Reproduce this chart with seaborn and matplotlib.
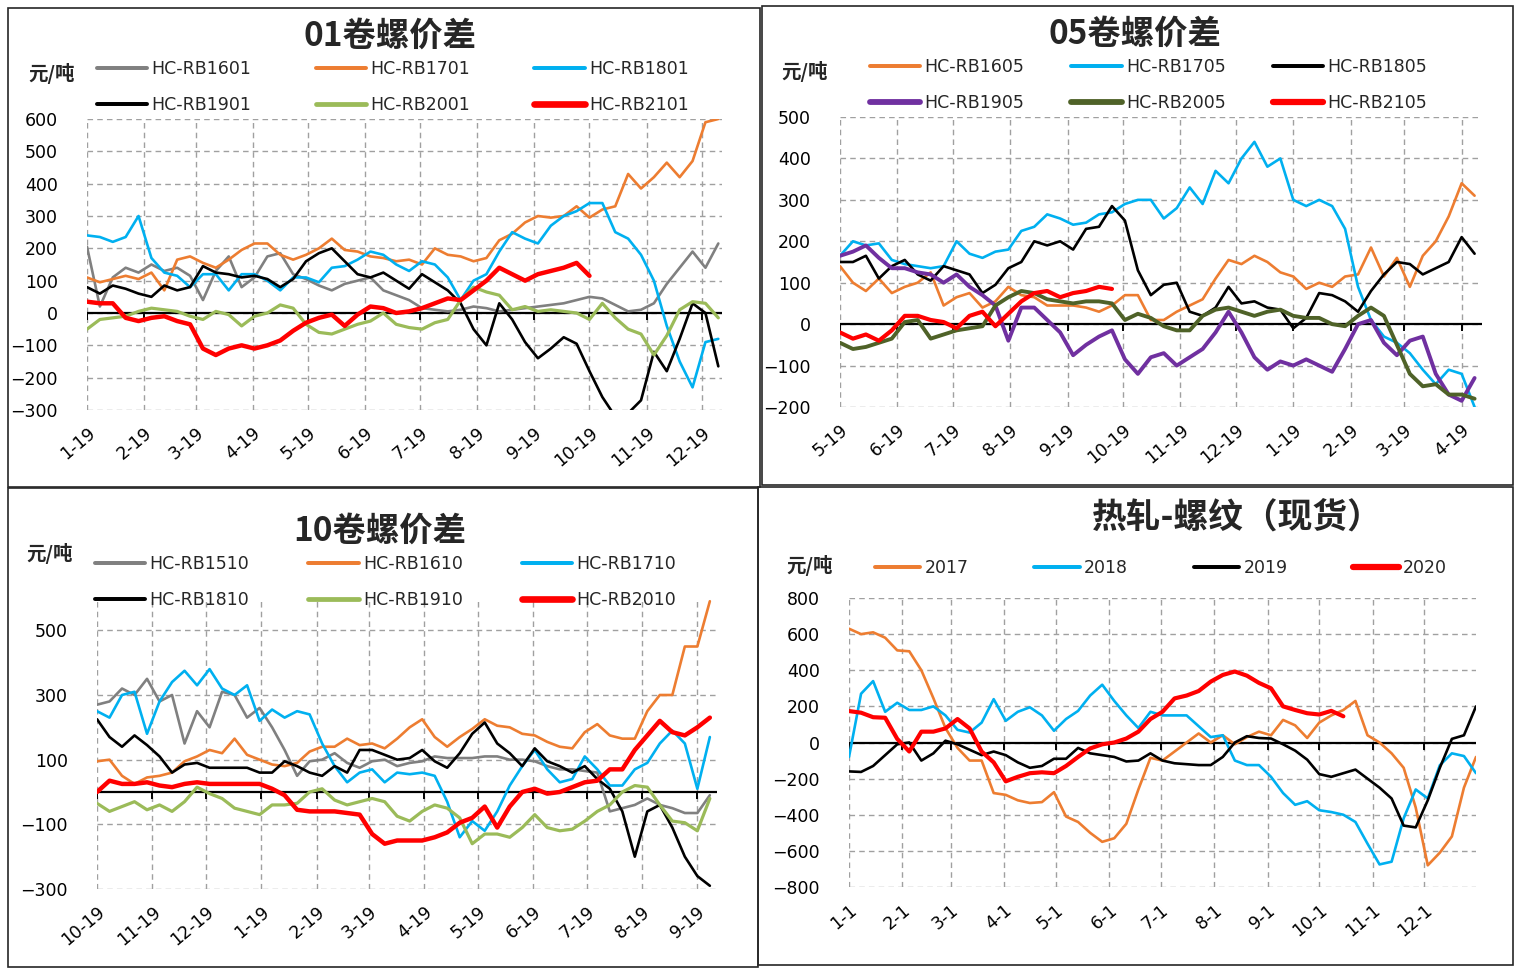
import numpy as np
import pandas as pd
import matplotlib
matplotlib.use("Agg")
import matplotlib.pyplot as plt
from matplotlib.patches import Rectangle
import seaborn as sns

# Data (weekly readings, 元/吨)

# 01 contracts, weekly from 1-19
hc_rb1601 = [205, 20, 110, 140, 125, 150, 130, 140, 115, 40, 130, 175, 80, 110, 175, 185, 120, 105, 85, 70,
             90, 100, 110, 70, 55, 40, 15, 10, 5, 10, 20, 15, 5, 10, 15, 20, 25, 30, 40, 50,
             45, 25, 5, 10, 30, 90, 140, 190, 140, 215]
hc_rb1701 = [110, 95, 105, 115, 105, 125, 70, 165, 175, 155, 140, 165, 195, 215, 215, 180, 165, 180, 200, 230,
             195, 190, 175, 170, 160, 165, 150, 200, 180, 175, 160, 170, 225, 245, 280, 300, 295, 300, 330, 295,
             320, 330, 430, 385, 420, 465, 420, 470, 590, 600]
hc_rb1801 = [240, 235, 220, 235, 300, 170, 125, 115, 80, 120, 120, 70, 120, 120, 100, 70, 110, 110, 95, 140,
             145, 165, 190, 180, 150, 130, 160, 150, 110, 40, 100, 120, 190, 250, 230, 215, 270, 300, 315, 340,
             340, 250, 230, 180, 100, -40, -150, -230, -90, -80]
hc_rb1901 = [80, 60, 85, 75, 60, 50, 85, 70, 80, 145, 125, 120, 110, 115, 105, 80, 105, 160, 185, 200,
             160, 120, 110, 125, 100, 75, 120, 95, 70, 30, -50, -100, 30, -20, -90, -140, -110, -75, -95, -180,
             -260, -320, -310, -270, -120, -180, -80, 30, 0, -165]
hc_rb2001 = [-50, -20, -15, -10, 5, 15, 10, 5, -10, -20, 5, -5, -40, -10, 0, 25, 15, -35, -60, -65,
             -50, -35, -25, 0, -35, -45, -50, -30, -20, 40, 80, 65, 55, 10, 20, 5, 10, 5, 0, -20,
             30, -15, -50, -65, -130, -70, 10, 35, 30, -15]
hc_rb2101 = [35, 30, 30, -15, -25, -15, -10, -25, -35, -110, -130, -110, -100, -110, -100, -85, -55, -30, -15, -5,
             -40, -5, 20, 15, 0, 5, 15, 30, 45, 40, 70, 100, 140, 120, 100, 120, 130, 140, 155, 115]

# 05 contracts, weekly from 5-19
hc_rb1605 = [140, 100, 80, 110, 75, 90, 100, 125, 45, 65, 75, 40, 55, 90, 70, 65, 45, 45, 45, 40,
             30, 45, 70, 70, 10, 10, 30, 45, 60, 110, 155, 145, 165, 150, 125, 115, 85, 100, 90, 115,
             120, 185, 115, 160, 90, 165, 200, 260, 340, 310]
hc_rb1705 = [165, 200, 190, 195, 155, 145, 140, 135, 140, 200, 170, 160, 175, 180, 225, 235, 265, 255, 240, 245,
             265, 270, 290, 300, 300, 255, 280, 330, 290, 370, 340, 400, 440, 380, 400, 300, 285, 300, 285, 230,
             90, 10, -30, -45, -70, -110, -145, -110, -120, -200]
hc_rb1805 = [150, 150, 165, 110, 140, 155, 120, 105, 140, 130, 120, 75, 95, 135, 150, 200, 190, 200, 180, 230,
             235, 285, 250, 130, 70, 95, 100, 30, 20, 40, 90, 50, 55, 40, 35, -10, 15, 75, 70, 55,
             30, 80, 120, 150, 145, 120, 135, 150, 210, 170]
hc_rb1905 = [165, 175, 190, 160, 135, 135, 125, 120, 100, 120, 90, 70, 45, -40, 40, 40, 10, -20, -75, -50,
             -30, -15, -85, -120, -80, -70, -100, -80, -60, -20, 30, -20, -80, -110, -90, -100, -85, -100, -115, -60,
             0, 10, -45, -75, -40, -30, -120, -170, -185, -130]
hc_rb2005 = [-45, -60, -55, -45, -35, 5, 10, -35, -25, -15, -10, -5, 45, 65, 80, 75, 60, 55, 50, 55,
             55, 50, 10, 25, 15, -5, -15, -15, 20, 35, 40, 30, 20, 30, 35, 20, 15, 15, 0, -5,
             20, 40, 20, -50, -120, -150, -145, -170, -170, -180]
hc_rb2105 = [-20, -35, -25, -40, -15, 20, 20, 10, 5, -10, 20, 30, -5, 25, 55, 75, 80, 65, 75, 80, 90, 85]

# 10 contracts, weekly from 10-19
hc_rb1510 = [270, 280, 320, 300, 350, 280, 300, 150, 250, 200, 310, 300, 230, 260, 200, 130, 50, 95, 100, 120,
             90, 75, 95, 100, 80, 90, 95, 110, 105, 105, 105, 110, 110, 100, 100, 95, 80, 70, 70, 65,
             60, -60, -50, -40, -20, -40, -50, -65, -65, -10]
hc_rb1610 = [95, 100, 50, 25, 45, 50, 60, 95, 110, 130, 120, 165, 115, 100, 85, 80, 90, 125, 140, 140,
             165, 145, 150, 135, 165, 200, 225, 170, 140, 170, 195, 225, 205, 200, 180, 175, 155, 140, 135, 185,
             210, 175, 165, 165, 250, 300, 300, 450, 450, 590]
hc_rb1710 = [250, 230, 300, 310, 180, 280, 340, 375, 330, 380, 320, 300, 330, 220, 255, 230, 250, 240, 150, 80,
             30, 60, 70, 30, 60, 55, 60, 50, -30, -140, -90, -120, -60, 20, 80, 130, 70, 30, 40, 110,
             70, 20, 20, 70, 90, 150, 190, 150, 10, 170]
hc_rb1810 = [225, 170, 140, 175, 145, 110, 60, 85, 90, 75, 75, 75, 75, 60, 60, 95, 80, 60, 50, 80,
             60, 130, 130, 115, 100, 105, 130, 95, 75, 120, 180, 215, 150, 120, 80, 135, 95, 80, 60, 80,
             40, 10, -60, -200, -60, -40, -110, -200, -260, -290]
hc_rb1910 = [-35, -60, -45, -30, -55, -40, -60, -30, 15, -5, -20, -50, -60, -70, -40, -40, -35, 0, 10, -25,
             -40, -30, -20, -30, -75, -90, -60, -40, -50, -80, -160, -130, -130, -140, -110, -70, -110, -120, -115, -90,
             -60, -40, 0, 20, 15, -40, -90, -95, -120, -20]
hc_rb2010 = [0, 35, 25, 25, 30, 20, 15, 25, 30, 25, 25, 25, 25, 25, 10, -10, -55, -60, -60, -60,
             -65, -70, -130, -160, -150, -150, -150, -140, -125, -95, -80, -45, -110, -45, 0, 10, -5, 0, 15, 30,
             35, 70, 70, 130, 175, 220, 185, 175, 200, 230]

# spot HC - RB, weekly from 1-1
spot_2017 = [630, 600, 610, 580, 510, 505, 400, 245, 80, -30, -100, -100, -280, -290, -320, -335, -330, -275, -410, -440,
             -500, -550, -530, -450, -260, -85, -100, -50, 0, 50, 0, 40, -10, 30, 60, 40, 125, 95, 25, 110,
             150, 180, 230, 40, 0, -60, -140, -360, -680, -610, -520, -250, -80]
spot_2018 = [-80, 270, 340, 170, 220, 180, 180, 200, 150, 70, 55, 110, 240, 120, 170, 195, 150, 65, 130, 175,
             260, 320, 230, 150, 80, 170, 150, 150, 150, 90, 30, 40, -100, -125, -125, -190, -280, -345, -325, -375,
             -385, -400, -440, -560, -675, -660, -420, -260, -310, -126, -60, -75, -170]
spot_2019 = [-160, -163, -130, -70, -10, 0, -100, -60, 10, -10, -40, -70, -50, -70, -110, -140, -130, -90, -90, -30,
             -60, -70, -80, -105, -100, -60, -100, -115, -120, -125, -125, -80, 0, 35, 25, 22, -10, -45, -95, -175,
             -190, -170, -150, -200, -250, -310, -460, -470, -320, -140, 20, 40, 200]
spot_2020 = [174, 165, 140, 137, 20, -50, 60, 60, 78, 130, 78, -50, -110, -215, -190, -170, -165, -170, -130, -80,
             -33, -10, 0, 22, 60, 130, 170, 244, 260, 285, 337, 374, 393, 370, 330, 300, 200, 180, 162, 155,
             175, 145]

# Styling

GRAY, ORANGE, BLUE, BLACK = "#808080", "#ED7D31", "#00B0F0", "#000000"
LGREEN, RED, PURPLE, DGREEN = "#9BBB59", "#FF0000", "#7030A0", "#4F6228"

sns.set_theme(style="white")
plt.rcParams["font.family"] = ["DejaVu Sans", "Noto Sans CJK SC"]
CJK = ["Noto Sans CJK SC", "DejaVu Sans"]

W, H = 1515, 969
fig = plt.figure(figsize=(W / 100, H / 100), dpi=100)


def fbox(x0, y0, x1, y1):
    return [x0 / W, 1 - y1 / H, (x1 - x0) / W, (y1 - y0) / H]


def draw_panel(box, start, end, series, colors, widths, ylim, yticks):
    ax = fig.add_axes(fbox(*box))
    for vals, c, lw in zip(series, colors, widths):
        dates = pd.date_range(start, periods=len(vals), freq="7D")
        sns.lineplot(x=dates, y=vals, color=c, linewidth=lw, ax=ax, zorder=3)

    ticks = pd.date_range(start, periods=12, freq=pd.DateOffset(months=1))
    ax.set_xlim(pd.Timestamp(start), pd.Timestamp(end))
    ax.set_xticks(ticks)
    ax.set_xticklabels([f"{d.month}-{d.day}" for d in ticks], rotation=40,
                       ha="right", rotation_mode="anchor")
    ax.set_ylim(*ylim)
    ax.set_yticks(yticks)
    ax.set_xlabel("")
    ax.set_ylabel("")
    ax.grid(True, color="#a0a0a0", linestyle=(0, (4, 3)), linewidth=1.0)
    for s in ax.spines.values():
        s.set_visible(False)
    ax.tick_params(axis="both", length=0, labelsize=12.5, colors="black")
    ax.tick_params(axis="y", pad=21)
    ax.tick_params(axis="x", pad=10)

    # zero axis with little tick marks
    ax.axhline(0, color="black", linewidth=1.6, zorder=2)
    ax.plot(ticks, np.zeros(len(ticks)), ls="none", marker=3, ms=5, mew=1.4,
            color="black", zorder=2)
    return ax


def add_legend(ax, labels, x, y, ncol, colsp, handlelen=2.9):
    handles = ax.get_lines()[:len(labels)]
    # matplotlib fills legends column-wise; reorder to read row-wise
    nrow = int(np.ceil(len(labels) / ncol))
    order = [r * ncol + c for c in range(ncol) for r in range(nrow) if r * ncol + c < len(labels)]
    leg = fig.legend([handles[i] for i in order], [labels[i] for i in order],
                     loc="upper left", bbox_to_anchor=(x / W, 1 - y / H), ncol=ncol,
                     frameon=False, fontsize=12.5, handlelength=handlelen, handletextpad=0.25,
                     columnspacing=colsp, labelspacing=1.05, borderpad=0, borderaxespad=0)
    for line in leg.get_lines():
        line.set_linewidth(line.get_linewidth() * 1.5)


def panel_text(title, tx, ty, ux, uy, tsize=24):
    fig.text(tx / W, 1 - ty / H, title, ha="center", va="center", fontsize=tsize,
             fontweight="bold", family=CJK)
    fig.text(ux / W, 1 - uy / H, "元/吨", ha="center", va="center", fontsize=14,
             fontweight="bold", family=CJK)


# 01卷螺价差
ax1 = draw_panel((87, 119, 722, 410), "2019-01-19", "2019-12-30",
                 [hc_rb1601, hc_rb1701, hc_rb1801, hc_rb1901, hc_rb2001, hc_rb2101],
                 [GRAY, ORANGE, BLUE, BLACK, LGREEN, RED],
                 [1.9, 1.9, 1.9, 1.9, 2.3, 3.2],
                 (-300, 600), np.arange(-300, 601, 100))
add_legend(ax1, ["HC-RB1601", "HC-RB1701", "HC-RB1801", "HC-RB1901", "HC-RB2001", "HC-RB2101"],
           97, 60, 3, 3.7)
panel_text("01卷螺价差", 390, 36, 52, 73)

# 05卷螺价差
ax2 = draw_panel((840, 117, 1482, 407), "2019-05-19", "2020-04-30",
                 [hc_rb1605, hc_rb1705, hc_rb1805, hc_rb1905, hc_rb2005, hc_rb2105],
                 [ORANGE, BLUE, BLACK, PURPLE, DGREEN, RED],
                 [1.9, 1.9, 1.9, 2.8, 2.8, 3.0],
                 (-200, 500), np.arange(-200, 501, 100))
add_legend(ax2, ["HC-RB1605", "HC-RB1705", "HC-RB1805", "HC-RB1905", "HC-RB2005", "HC-RB2105"],
           870, 58, 3, 2.7)
panel_text("05卷螺价差", 1135, 34, 805, 71)

# 10卷螺价差
ax3 = draw_panel((97, 598, 717, 889), "2019-10-19", "2020-09-30",
                 [hc_rb1510, hc_rb1610, hc_rb1710, hc_rb1810, hc_rb1910, hc_rb2010],
                 [GRAY, ORANGE, BLUE, BLACK, LGREEN, RED],
                 [1.9, 1.9, 1.9, 1.9, 2.3, 3.2],
                 (-300, 600), np.arange(-300, 501, 200))
add_legend(ax3, ["HC-RB1510", "HC-RB1610", "HC-RB1710", "HC-RB1810", "HC-RB1910", "HC-RB2010"],
           95, 555, 3, 3.4)
panel_text("10卷螺价差", 380, 531, 50, 553)

# 热轧-螺纹（现货）
ax4 = draw_panel((849, 598, 1476, 887), "2019-01-01", "2019-12-31",
                 [spot_2017, spot_2018, spot_2019, spot_2020],
                 [ORANGE, BLUE, BLACK, RED],
                 [1.9, 1.9, 1.9, 3.0],
                 (-800, 800), np.arange(-800, 801, 200))
add_legend(ax4, ["2017", "2018", "2019", "2020"], 875, 559, 4, 3.8, handlelen=2.6)
panel_text("热轧-螺纹（现货）", 1237, 517, 810, 566, tsize=25)

# panel frames
for box in [(8, 8, 760, 487), (762, 6, 1513, 485), (8, 488, 758, 967), (758, 487, 1513, 965)]:
    x, y, w, h = fbox(*box)
    fig.add_artist(Rectangle((x, y), w, h, transform=fig.transFigure, fill=False,
                             edgecolor="#262626", linewidth=1.2))

fig.savefig("out.png", dpi=100)
